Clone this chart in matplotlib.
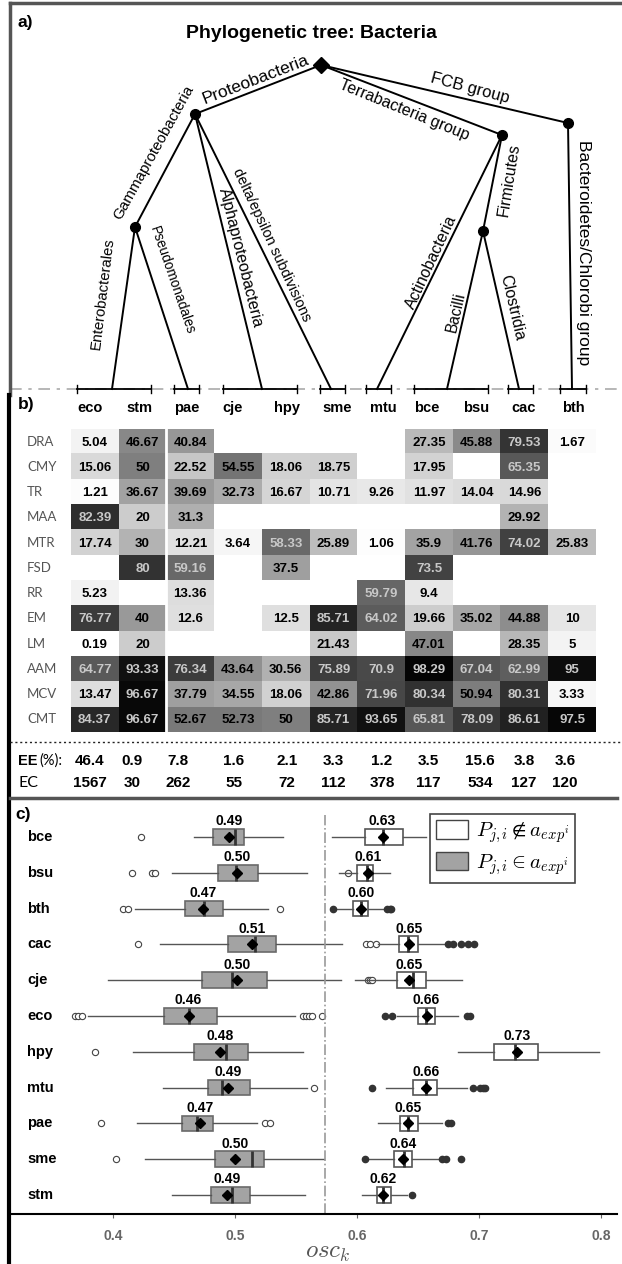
import matplotlib
matplotlib.use('Agg')
import matplotlib.pyplot as plt
import numpy as np
from matplotlib.patches import Patch
from matplotlib.transforms import blended_transform_factory

plt.rcParams['font.family'] = ['Liberation Sans', 'DejaVu Sans']
plt.rcParams['mathtext.fontset'] = 'cm'

# ---------------- data ----------------
species = ['eco', 'stm', 'pae', 'cje', 'hpy', 'sme', 'mtu', 'bce', 'bsu', 'cac', 'bth']
features = ['DRA', 'CMY', 'TR', 'MAA', 'MTR', 'FSD', 'RR', 'EM', 'LM', 'AAM', 'MCV', 'CMT']
nan = np.nan
scores = np.array([
    [5.04, 46.67, 40.84, nan, nan, nan, nan, 27.35, 45.88, 79.53, 1.67],
    [15.06, 50, 22.52, 54.55, 18.06, 18.75, nan, 17.95, nan, 65.35, nan],
    [1.21, 36.67, 39.69, 32.73, 16.67, 10.71, 9.26, 11.97, 14.04, 14.96, nan],
    [82.39, 20, 31.3, nan, nan, nan, nan, nan, nan, 29.92, nan],
    [17.74, 30, 12.21, 3.64, 58.33, 25.89, 1.06, 35.9, 41.76, 74.02, 25.83],
    [nan, 80, 59.16, nan, 37.5, nan, nan, 73.5, nan, nan, nan],
    [5.23, nan, 13.36, nan, nan, nan, 59.79, 9.4, nan, nan, nan],
    [76.77, 40, 12.6, nan, 12.5, 85.71, 64.02, 19.66, 35.02, 44.88, 10],
    [0.19, 20, nan, nan, nan, 21.43, nan, 47.01, nan, 28.35, 5],
    [64.77, 93.33, 76.34, 43.64, 30.56, 75.89, 70.9, 98.29, 67.04, 62.99, 95],
    [13.47, 96.67, 37.79, 34.55, 18.06, 42.86, 71.96, 80.34, 50.94, 80.31, 3.33],
    [84.37, 96.67, 52.67, 52.73, 50, 85.71, 93.65, 65.81, 78.09, 86.61, 97.5],
])
ee_pct = [46.4, 0.9, 7.8, 1.6, 2.1, 3.3, 1.2, 3.5, 15.6, 3.8, 3.6]
ec_count = [1567, 30, 262, 55, 72, 112, 378, 117, 534, 127, 120]

# panel c: box statistics per organism
box_rows = ['bce', 'bsu', 'bth', 'cac', 'cje', 'eco', 'hpy', 'mtu', 'pae', 'sme', 'stm']
# P in a_exp (grey boxes)
in_whislo = [0.466, 0.448, 0.418, 0.4385, 0.396, 0.3795, 0.4164, 0.441, 0.4197, 0.426, 0.448]
in_q1 = [0.482, 0.486, 0.459, 0.494, 0.473, 0.4418, 0.4664, 0.478, 0.4566, 0.4836, 0.480]
in_med = [0.500, 0.5008, 0.4746, 0.5164, 0.4975, 0.4623, 0.4926, 0.4893, 0.4689, 0.5139, 0.4975]
in_q3 = [0.507, 0.519, 0.490, 0.5336, 0.526, 0.4853, 0.511, 0.512, 0.482, 0.5238, 0.512]
in_whishi = [0.539, 0.559, 0.527, 0.5877, 0.587, 0.549, 0.5557, 0.559, 0.518, 0.573, 0.5574]
in_mean = [0.495, 0.502, 0.474, 0.514, 0.5016, 0.462, 0.4877, 0.494, 0.4713, 0.500, 0.4934]
in_mean_lbl = ['0.49', '0.50', '0.47', '0.51', '0.50', '0.46', '0.48', '0.49', '0.47', '0.50', '0.49']
in_fliers = [[0.423], [0.4156, 0.432, 0.4344, 0.593], [0.408, 0.412, 0.537],
             [0.4205, 0.607, 0.611, 0.6156], [0.609, 0.6107, 0.612],
             [0.369, 0.3713, 0.3746, 0.556, 0.558, 0.561, 0.563, 0.571],
             [0.385], [0.5648], [0.390, 0.5246, 0.5287], [0.4025], []]
# P not in a_exp (white boxes)
out_whislo = [0.5795, 0.585, 0.584, 0.617, 0.598, 0.633, 0.6828, 0.6238, 0.617, 0.609, 0.604]
out_q1 = [0.6066, 0.600, 0.597, 0.6344, 0.6328, 0.650, 0.7123, 0.646, 0.635, 0.630, 0.6164]
out_med = [0.621, 0.608, 0.603, 0.642, 0.646, 0.6566, 0.7295, 0.6566, 0.6418, 0.6385, 0.621]
out_q3 = [0.6377, 0.613, 0.609, 0.650, 0.6566, 0.664, 0.748, 0.6656, 0.650, 0.645, 0.628]
out_whishi = [0.6566, 0.627, 0.622, 0.672, 0.686, 0.683, 0.798, 0.690, 0.6697, 0.6664, 0.641]
out_mean = [0.621, 0.609, 0.603, 0.6426, 0.643, 0.657, 0.731, 0.6566, 0.642, 0.6377, 0.621]
out_mean_lbl = ['0.63', '0.61', '0.60', '0.65', '0.65', '0.66', '0.73', '0.66', '0.65', '0.64', '0.62']
out_fliers = [[], [], [0.580, 0.625, 0.627, 0.628], [0.6746, 0.6787, 0.685, 0.691, 0.696], [],
              [0.623, 0.6287, 0.690, 0.6926], [], [0.612, 0.695, 0.7008, 0.7033, 0.705],
              [0.6746, 0.677], [0.6066, 0.6697, 0.673, 0.685], [0.645]]
threshold = 0.574

# ---------------- layout (pixels) ----------------
W, H = 622, 1264
fig = plt.figure(figsize=(W / 100, H / 100), dpi=100)
fig.patch.set_facecolor('white')


def fx(px):
    return px / W


def fy(py):
    return 1 - py / H


axc = fig.add_axes([fx(10), fy(1214), fx(617) - fx(10), fy(800) - fy(1214)])
axh = fig.add_axes([fx(71), fy(732), fx(596) - fx(71), fy(429) - fy(732)])
ov = fig.add_axes([0, 0, 1, 1], zorder=5)
ov.set_xlim(0, W)
ov.set_ylim(H, 0)
ov.axis('off')
ov.patch.set_alpha(0)

# ---------------- a) tree ----------------
nodes = {'root': (321, 65), 'proteo': (195, 114), 'gamma': (135, 227),
         'terra': (502, 135), 'fcb': (568, 123), 'firm': (483, 231)}
leaf_y = 389
branches = [
    ('root', 'proteo', 'Proteobacteria', (256, 80), 21, 12.5),
    ('root', 'terra', 'Terrabacteria group', (404, 110), -22, 11.5),
    ('root', 'fcb', 'FCB group', (470, 88), -15, 12),
    ('fcb', 572, 'Bacteroidetes/Chlorobi group', (583, 253), -90, 12.5),
    ('proteo', 'gamma', 'Gammaproteobacteria', (154, 152), 61, 11),
    ('gamma', 112, 'Enterobacterales', (103, 294), 83, 10.7),
    ('gamma', 188, 'Pseudomonadales', (172, 280), -71, 9.8),
    ('proteo', 262, 'Alphaproteobacteria', (241, 258), -76, 11.5),
    ('proteo', 331, 'delta/epsilon subdivisions', (272, 245), -65, 10.5),
    ('terra', 377, 'Actinobacteria', (431, 262), 65, 11.5),
    ('terra', 'firm', 'Firmicutes', (509, 180), 81, 11.5),
    ('firm', 447, 'Bacilli', (456, 312), 77, 11.2),
    ('firm', 519, 'Clostridia', (512, 308), -77, 11.5),
]
leaf_spans = [(77, 151), (174, 199), (223, 297), (320, 345), (366, 391),
              (414, 488), (508, 533), (560, 586)]


def pos(key):
    return nodes[key] if isinstance(key, str) else (key, leaf_y)


ov.plot([10, 622], [leaf_y, leaf_y], color='#aaaaaa', lw=1.2, ls=(0, (7, 4, 2, 4)), zorder=2)
for a, b in leaf_spans:
    ov.plot([a, b], [leaf_y, leaf_y], color='black', lw=1.3, zorder=3)
    for t in (a, b):
        ov.plot([t, t], [leaf_y - 4, leaf_y + 4], color='black', lw=1, zorder=3)

for parent, child, label, (lx, ly), rot, size in branches:
    (x0, y0), (x1, y1) = pos(parent), pos(child)
    ov.plot([x0, x1], [y0, y1], color='black', lw=1.4, zorder=3)
    ov.text(lx, ly, label, rotation=rot, fontsize=size, ha='center', va='center',
            rotation_mode='anchor')

for key, (x, y) in nodes.items():
    if key == 'root':
        ov.plot(x, y, 'D', color='black', ms=8, zorder=4)
    else:
        ov.plot(x, y, 'o', color='black', ms=7, zorder=4)

ov.text(311, 34, 'Phylogenetic tree: Bacteria', fontsize=14, fontweight='bold',
        ha='center', va='center')

# frames and separators
ov.plot([10, 622], [3, 3], color='#555555', lw=2.5)
ov.plot([10, 10], [3, 395], color='#555555', lw=2.5)
ov.plot([9, 9], [395, 1264], color='black', lw=3)
ov.plot([10, 622], [742, 742], color='#222222', lw=1, ls=(0, (1.5, 2)))
ov.plot([10, 617], [798, 798], color='#555555', lw=2.5)

ov.text(17, 22, 'a)', fontsize=12.5, fontweight='bold', va='center')
ov.text(18, 404, 'b)', fontsize=12.5, fontweight='bold', va='center')
ov.text(15, 814, 'c)', fontsize=12.5, fontweight='bold', va='center')

# ---------------- b) heatmap ----------------
col_label_x = [90, 139, 187, 233, 287, 337, 383, 427, 476, 524, 573]
for x, sp in zip(col_label_x, species):
    ov.text(x, 412, sp, fontsize=10.5, fontweight='bold', ha='center', va='baseline')

cmap = plt.get_cmap('gray_r').copy()
cmap.set_bad('white')
axh.imshow(np.ma.masked_invalid(scores), cmap=cmap, vmin=0, vmax=100,
           aspect='auto', interpolation='nearest')
axh.axvline(1.5, color='white', lw=2)
axh.axis('off')
for i in range(scores.shape[0]):
    for j in range(scores.shape[1]):
        v = scores[i, j]
        if np.isnan(v):
            continue
        axh.text(j, i + 0.04, f'{v:g}', ha='center', va='center', fontsize=9.5,
                 fontweight='bold', color='#c8c8c8' if v >= 56 else 'black')

trh = blended_transform_factory(fig.transFigure, axh.transData)
for i, f in enumerate(features):
    axh.text(27 / W, i, f, transform=trh, ha='left', va='center', fontsize=9.5,
             color='#555555', family=['Lato', 'DejaVu Sans'])

val_x = [90, 132, 178, 234, 287, 333, 382, 428, 480, 524, 565]
ov.text(18, 765, 'EE', fontsize=10.5, fontweight='bold', va='baseline')
ov.text(39, 765, '(%):', fontsize=10.5, va='baseline', family=['Lato', 'DejaVu Sans'])
ov.text(18, 787, 'EC', fontsize=11.5, va='baseline', family=['Lato', 'DejaVu Sans'])
for x, e, c in zip(val_x, ee_pct, ec_count):
    ov.text(x, 765, f'{e:g}', fontsize=11, fontweight='bold', ha='center', va='baseline')
    ov.text(x, 787, f'{c}', fontsize=11, fontweight='bold', ha='center', va='baseline')

# ---------------- c) boxplots ----------------
n = len(box_rows)
in_stats = [dict(whislo=in_whislo[i], q1=in_q1[i], med=in_med[i], q3=in_q3[i],
                 whishi=in_whishi[i], mean=in_mean[i], fliers=in_fliers[i]) for i in range(n)]
out_stats = [dict(whislo=out_whislo[i], q1=out_q1[i], med=out_med[i], q3=out_q3[i],
                  whishi=out_whishi[i], mean=out_mean[i], fliers=out_fliers[i]) for i in range(n)]

common = dict(positions=range(n), widths=0.44, orientation='horizontal', patch_artist=True,
              showmeans=True, showcaps=False, manage_ticks=False,
              medianprops=dict(color='#333333', lw=2),
              whiskerprops=dict(color='#555555', lw=1),
              meanprops=dict(marker='D', mfc='black', mec='black', ms=5.5))
axc.bxp(in_stats, boxprops=dict(facecolor='#a3a3a3', edgecolor='#6a6a6a', lw=1.2),
        flierprops=dict(marker='o', mfc='white', mec='#444444', ms=4.5, mew=0.8), **common)
axc.bxp(out_stats, boxprops=dict(facecolor='white', edgecolor='#555555', lw=1.2),
        flierprops=dict(marker='o', mfc='#333333', mec='#333333', ms=4.5), **common)

for i in range(n):
    axc.text(in_mean[i], i - 0.24, in_mean_lbl[i], ha='center', va='bottom',
             fontsize=10, fontweight='bold')
    axc.text(out_mean[i], i - 0.24, out_mean_lbl[i], ha='center', va='bottom',
             fontsize=10, fontweight='bold')

trc = blended_transform_factory(axc.transAxes, axc.transData)
for i, sp in enumerate(box_rows):
    axc.text(0.028, i, sp, transform=trc, ha='left', va='center', fontsize=10.5,
             fontweight='bold')

axc.axvline(threshold, ymin=0, ymax=0.964, color='#999999', lw=1.2, ls='-.')

axc.set_xlim(0.3156, 0.8131)
axc.set_ylim(10.53, -1.03)
axc.set_yticks([])
for s in ('top', 'right', 'left'):
    axc.spines[s].set_visible(False)
axc.spines['bottom'].set_linewidth(1.5)
ticks = [0.4, 0.5, 0.6, 0.7, 0.8]
axc.set_xticks(ticks)
axc.set_xticklabels([f'{t:.1f}' for t in ticks], fontweight='bold')
axc.tick_params(axis='x', length=3, pad=8, labelsize=10, labelcolor='#666666', color='#666666')
axc.set_xlabel(r'$osc_k$', fontsize=18, color='#555555')
axc.xaxis.set_label_coords((328 - 10) / 607, -0.062)

handles = [Patch(facecolor='white', edgecolor='#444444', lw=1),
           Patch(facecolor='#a3a3a3', edgecolor='#444444', lw=1)]
leg = axc.legend(handles, [r'$P_{j,i} \notin a_{exp^i}$', r'$P_{j,i} \in a_{exp^i}$'],
                 loc='upper left', bbox_to_anchor=(0.692, 0.966), fontsize=15,
                 handlelength=1.5, handleheight=1.0, fancybox=False, framealpha=1,
                 edgecolor='#444444', borderpad=0.3, labelspacing=0.3, handletextpad=0.4,
                 borderaxespad=0)
leg.get_frame().set_linewidth(1.2)

fig.savefig('out.png', dpi=100, facecolor='white')
